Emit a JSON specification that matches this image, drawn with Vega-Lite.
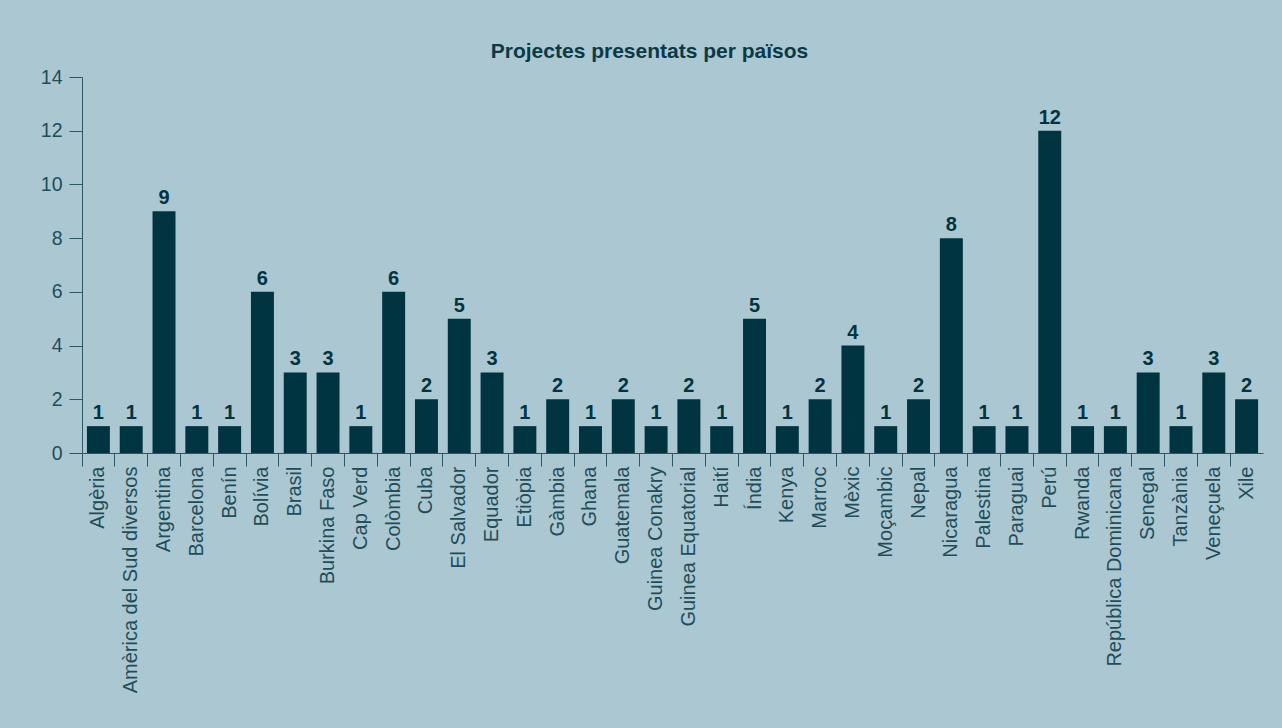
{
  "$schema": "https://vega.github.io/schema/vega-lite/v6.json",
  "width": 1181,
  "height": 376,
  "autosize": {"type": "none"},
  "padding": {"left": 82, "top": 77, "right": 19, "bottom": 275},
  "background": "#abc7d2",
  "config": {
    "font": "Liberation Sans",
    "view": {"stroke": null}
  },
  "title": {
    "text": "Projectes presentats per països",
    "anchor": "middle",
    "frame": "group",
    "dx": -23,
    "offset": 5,
    "fontSize": 21,
    "fontWeight": "bold",
    "color": "#0b3a47",
    "font": "Liberation Sans"
  },
  "data": {
    "values": [
      {"pais": "Algèria", "n": 1},
      {"pais": "Amèrica del Sud diversos", "n": 1},
      {"pais": "Argentina", "n": 9},
      {"pais": "Barcelona", "n": 1},
      {"pais": "Benín", "n": 1},
      {"pais": "Bolívia", "n": 6},
      {"pais": "Brasil", "n": 3},
      {"pais": "Burkina Faso", "n": 3},
      {"pais": "Cap Verd", "n": 1},
      {"pais": "Colòmbia", "n": 6},
      {"pais": "Cuba", "n": 2},
      {"pais": "El Salvador", "n": 5},
      {"pais": "Equador", "n": 3},
      {"pais": "Etiòpia", "n": 1},
      {"pais": "Gàmbia", "n": 2},
      {"pais": "Ghana", "n": 1},
      {"pais": "Guatemala", "n": 2},
      {"pais": "Guinea Conakry", "n": 1},
      {"pais": "Guinea Equatorial", "n": 2},
      {"pais": "Haití", "n": 1},
      {"pais": "Índia", "n": 5},
      {"pais": "Kenya", "n": 1},
      {"pais": "Marroc", "n": 2},
      {"pais": "Mèxic", "n": 4},
      {"pais": "Moçambic", "n": 1},
      {"pais": "Nepal", "n": 2},
      {"pais": "Nicaragua", "n": 8},
      {"pais": "Palestina", "n": 1},
      {"pais": "Paraguai", "n": 1},
      {"pais": "Perú", "n": 12},
      {"pais": "Rwanda", "n": 1},
      {"pais": "República Dominicana", "n": 1},
      {"pais": "Senegal", "n": 3},
      {"pais": "Tanzània", "n": 1},
      {"pais": "Veneçuela", "n": 3},
      {"pais": "Xile", "n": 2}
    ]
  },
  "encoding": {
    "x": {
      "field": "pais",
      "type": "nominal",
      "sort": null,
      "scale": {"paddingInner": 0.3, "paddingOuter": 0.15},
      "axis": {
        "title": null,
        "labelAngle": -90,
        "labelAlign": "right",
        "labelBaseline": "middle",
        "labelFontSize": 20,
        "labelColor": "#1f4d59",
        "labelPadding": 0,
        "labelLimit": 400,
        "tickSize": 13,
        "tickColor": "#2a5864",
        "domainColor": "#2a5864",
        "bandPosition": -0.214,
        "labelFont": "Liberation Sans"
      }
    },
    "y": {
      "field": "n",
      "type": "quantitative",
      "scale": {"domain": [0, 14], "nice": false},
      "axis": {
        "title": null,
        "values": [0, 2, 4, 6, 8, 10, 12, 14],
        "grid": false,
        "tickSize": 13,
        "labelPadding": 7,
        "labelFontSize": 19.5,
        "labelColor": "#1f4d59",
        "tickColor": "#2a5864",
        "domainColor": "#2a5864",
        "labelFont": "Liberation Sans"
      }
    }
  },
  "layer": [
    {"mark": {"type": "bar", "color": "#013441"}},
    {
      "mark": {
        "type": "text",
        "dy": -7,
        "baseline": "alphabetic",
        "fontWeight": "bold",
        "fontSize": 20,
        "color": "#013441",
        "font": "Liberation Sans"
      },
      "encoding": {"text": {"field": "n", "type": "quantitative"}}
    }
  ]
}
